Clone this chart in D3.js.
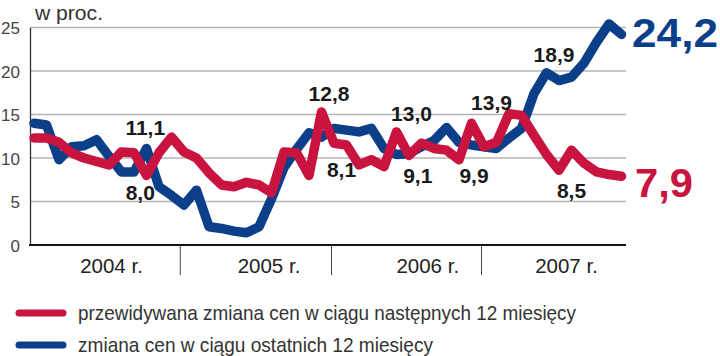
<!DOCTYPE html>
<html><head><meta charset="utf-8">
<script src="https://cdn.jsdelivr.net/npm/d3@7/dist/d3.min.js"></script>
<style>body{margin:0;background:#fff}svg{display:block}</style>
</head><body>
<svg id="c" width="720" height="356"></svg>
<script>
// ---- data ----
const years = ["2004 r.", "2005 r.", "2006 r.", "2007 r."];
const months = years.flatMap(y => ["01","02","03","04","05","06","07","08","09","10","11","12"].map(m => y.slice(0,4) + "-" + m));
// zmiana cen w ciągu ostatnich 12 miesięcy (blue)
const pastChange = [14.0, 13.8, 9.8, 11.3, 11.4, 12.1, 10.2, 8.4, 8.4, 11.1, 6.7, 5.7,
                    4.6, 6.3, 2.1, 1.9, 1.6, 1.4, 2.1, 5.3, 8.9, 11.0, 12.9, 12.4,
                    13.4, 13.2, 13.0, 13.4, 11.1, 10.4, 10.5, 11.3, 12.0, 13.5, 11.8, 11.5,
                    11.3, 11.1, 12.3, 13.4, 17.4, 19.8, 18.9, 19.3, 20.9, 23.3, 25.4, 24.2];
// przewidywana zmiana cen w ciągu następnych 12 miesięcy (red)
const expectedChange = [12.3, 12.3, 11.8, 10.6, 10.0, 9.6, 9.2, 10.7, 10.6, 8.0, 10.6, 12.4,
                        10.7, 10.0, 8.3, 6.9, 6.7, 7.2, 6.9, 6.0, 10.7, 10.6, 8.0, 15.3,
                        11.7, 11.5, 9.2, 9.8, 9.0, 13.0, 10.3, 11.7, 11.1, 10.9, 9.8, 14.0,
                        11.3, 11.8, 15.1, 14.9, 12.6, 10.4, 8.6, 10.9, 9.4, 8.4, 8.1, 7.9];
const yTicks = [0, 5, 10, 15, 20, 25];
const yearLabelAt = [6.2, 18.8, 31.5, 42.6];   // month index at which the year label is centred
const yearBreaks = [11.7, 23.8, 35.8];
const annText  = ["11,1", "8,0", "12,8", "8,1", "13,0", "9,1", "9,9", "13,9", "18,9", "8,5"];
const annIndex = [8.9, 8.5, 23.6, 24.6, 30.2, 30.7, 35.2, 36.6, 41.6, 43.0];
const annValue = [12.6, 5.2, 16.6, 7.8, 14.3, 7.1, 7.1, 15.5, 21.0, 5.4];
const legendLabels = ["przewidywana zmiana cen w ciągu następnych 12 miesięcy", "zmiana cen w ciągu ostatnich 12 miesięcy"];
const endLabels = ["24,2", "7,9"];

// ---- drawing ----
const BLUE = "#0c3f8a", RED = "#c8143f";
const svg = d3.select("#c");
const left = 30, right = 626;
const x = d3.scaleLinear().domain([0, months.length - 1]).range([34, 621.5]);
const y = d3.scaleLinear().domain([0, 25]).range([245, 27.5]);

// gridlines
svg.append("g").selectAll("line").data(yTicks.filter(d => d > 0)).join("line")
  .attr("x1", left).attr("x2", right).attr("y1", d => y(d)).attr("y2", d => y(d))
  .attr("stroke", "#b4b4b4").attr("stroke-width", 1.5);

// y axis
const yAxis = d3.axisLeft(y).tickValues(yTicks).tickSize(0).tickPadding(10).tickFormat(d3.format("d"));
const ga = svg.append("g").attr("transform", `translate(${left},0)`).call(yAxis);
ga.select(".domain").attr("stroke", "#333").attr("stroke-width", 1.3);
ga.selectAll("text").attr("font-family", "Liberation Sans, Arial, sans-serif").attr("font-size", 17)
  .attr("fill", "#444").attr("dy", "0.36em");

svg.append("text").attr("x", 35).attr("y", 20).text("w proc.")
  .attr("font-family", "Liberation Sans, Arial, sans-serif").attr("font-size", 21).attr("fill", "#333")
  .attr("textLength", 68).attr("lengthAdjust", "spacingAndGlyphs");

// bottom axis
svg.append("line").attr("x1", left - 1).attr("x2", right).attr("y1", y(0)).attr("y2", y(0))
  .attr("stroke", "#111").attr("stroke-width", 2.2);
svg.append("g").selectAll("line").data(yearBreaks).join("line")
  .attr("x1", d => x(d)).attr("x2", d => x(d)).attr("y1", y(0)).attr("y2", y(0) + 30)
  .attr("stroke", "#444").attr("stroke-width", 1);
svg.append("g").selectAll("text").data(years).join("text")
  .attr("x", (d, i) => x(yearLabelAt[i])).attr("y", 273).attr("text-anchor", "middle")
  .attr("font-family", "Liberation Sans, Arial, sans-serif").attr("font-size", 20.5)
  .attr("fill", "#222").text(d => d);

// lines
const line = d3.line().x((d, i) => x(i)).y(d => y(d)).curve(d3.curveLinear);
svg.append("path").datum(pastChange).attr("d", line).attr("fill", "none")
  .attr("stroke", BLUE).attr("stroke-width", 9.5).attr("stroke-linejoin", "round").attr("stroke-linecap", "round");
svg.append("path").datum(expectedChange).attr("d", line).attr("fill", "none")
  .attr("stroke", RED).attr("stroke-width", 9.5).attr("stroke-linejoin", "round").attr("stroke-linecap", "round");

// annotations
svg.append("g").selectAll("text").data(annText).join("text")
  .attr("x", (d, i) => x(annIndex[i])).attr("y", (d, i) => y(annValue[i]))
  .attr("text-anchor", "middle").attr("font-family", "Liberation Sans, Arial, sans-serif")
  .attr("font-weight", "bold").attr("font-size", 21).attr("fill", "#1a1a1a").text(d => d);

// end labels
const last = months.length - 1;
svg.append("text").attr("x", 632).attr("y", y(pastChange[last]) + 13).text(endLabels[0])
  .attr("font-family", "Liberation Sans, Arial, sans-serif").attr("font-weight", "bold")
  .attr("font-size", 41).attr("fill", BLUE).attr("textLength", 86).attr("lengthAdjust", "spacingAndGlyphs");
svg.append("text").attr("x", 635).attr("y", y(expectedChange[last]) + 21).text(endLabels[1])
  .attr("font-family", "Liberation Sans, Arial, sans-serif").attr("font-weight", "bold")
  .attr("font-size", 41).attr("fill", RED).attr("textLength", 58).attr("lengthAdjust", "spacingAndGlyphs");

// legend
const legW = [498, 355];
const lg = svg.append("g").selectAll("g").data(legendLabels).join("g")
  .attr("transform", (d, i) => `translate(0,${313 + i * 32})`);
lg.append("line").attr("x1", 19).attr("x2", 63).attr("y1", 0).attr("y2", 0)
  .attr("stroke", (d, i) => i === 0 ? RED : BLUE).attr("stroke-width", 7).attr("stroke-linecap", "round");
lg.append("text").attr("x", 78).attr("y", 7).text(d => d)
  .attr("font-family", "Liberation Sans Narrow, Liberation Sans, Arial, sans-serif").attr("font-size", 21)
  .attr("fill", "#333").attr("textLength", (d, i) => legW[i]).attr("lengthAdjust", "spacingAndGlyphs");
</script>
</body></html>
